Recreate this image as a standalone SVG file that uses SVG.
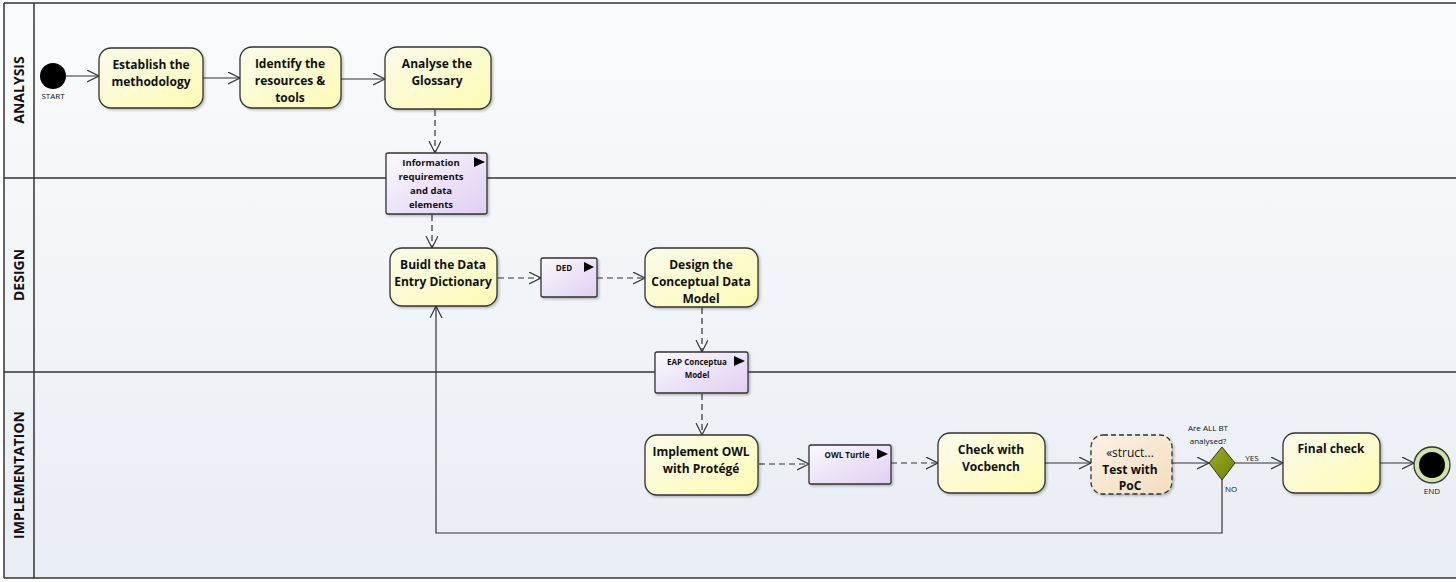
<svg xmlns="http://www.w3.org/2000/svg" width="1456" height="582" viewBox="0 0 1456 582">
<defs>
<linearGradient id="bg" x1="0" y1="0" x2="0" y2="1"><stop offset="0" stop-color="#fafbfc"/><stop offset="1" stop-color="#e9edf4"/></linearGradient>
<linearGradient id="act" x1="0" y1="0" x2="1" y2="1"><stop offset="0" stop-color="#fcfbea"/><stop offset="1" stop-color="#fdfbb4"/></linearGradient>
<linearGradient id="obj" x1="0" y1="0" x2="1" y2="1"><stop offset="0" stop-color="#fbf9fe"/><stop offset="1" stop-color="#dfcff2"/></linearGradient>
<linearGradient id="str" x1="0" y1="0" x2="1" y2="1"><stop offset="0" stop-color="#fbf1e4"/><stop offset="1" stop-color="#f4ddbd"/></linearGradient>
<linearGradient id="dia" x1="0" y1="0" x2="1" y2="1"><stop offset="0" stop-color="#9cad1e"/><stop offset="1" stop-color="#6f8208"/></linearGradient>
<filter id="sh" x="-10%" y="-10%" width="130%" height="130%"><feDropShadow dx="1.5" dy="1.5" stdDeviation="1.2" flood-color="#000" flood-opacity="0.25"/></filter>
<marker id="ah" markerUnits="userSpaceOnUse" markerWidth="14" markerHeight="14" refX="12" refY="6" orient="auto"><path d="M0,0 L12,6 L0,12" fill="none" stroke="#333" stroke-width="1.2"/></marker>
</defs>
<style>
.lane{stroke:#333;stroke-width:1.5;fill:none}
.lt{font-family:"Open Sans","Noto Sans",sans-serif;font-weight:bold;font-size:14px;fill:#111;text-anchor:middle}
.act{fill:url(#act);stroke:#333;stroke-width:1.3;filter:url(#sh)}
.obj{fill:url(#obj);stroke:#333;stroke-width:1.3;filter:url(#sh)}
.t{font-family:"Open Sans","Noto Sans",sans-serif;font-weight:bold;font-size:12px;fill:#111;text-anchor:middle}
.ts{font-family:"Open Sans","Noto Sans",sans-serif;font-weight:bold;font-size:9.5px;fill:#111;text-anchor:middle}
.tx{font-family:"Open Sans","Noto Sans",sans-serif;font-weight:bold;font-size:8px;fill:#111;text-anchor:middle}
.lbl{font-family:"Open Sans","Noto Sans",sans-serif;font-size:8px;fill:#111;text-anchor:middle}
.c{fill:none;stroke:#333;stroke-width:1.2;marker-end:url(#ah)}
.d{stroke-dasharray:6,4}
</style>
<rect x="4" y="3" width="1460" height="575" fill="url(#bg)"/>
<g id="lanes">
<line class="lane" x1="4" y1="3" x2="1456" y2="3"/>
<line class="lane" x1="4" y1="178" x2="1456" y2="178"/>
<line class="lane" x1="4" y1="372" x2="1456" y2="372"/>
<line class="lane" x1="4" y1="578" x2="1456" y2="578"/>
<line class="lane" x1="4" y1="3" x2="4" y2="578"/>
<line class="lane" x1="34" y1="3" x2="34" y2="578"/>
<text class="lt" transform="translate(24,90) rotate(-90)">ANALYSIS</text>
<text class="lt" transform="translate(24,275) rotate(-90)">DESIGN</text>
<text class="lt" transform="translate(24,475) rotate(-90)">IMPLEMENTATION</text>
</g>
<g id="connectors">
<line class="c" x1="66" y1="76" x2="99" y2="76"/>
<line class="c" x1="203" y1="78" x2="240" y2="78"/>
<line class="c" x1="341" y1="79" x2="385" y2="79"/>
<line class="c d" x1="435" y1="110" x2="435" y2="153"/>
<line class="c d" x1="432" y1="215" x2="432" y2="248"/>
<line class="c d" x1="498" y1="278" x2="541" y2="278"/>
<line class="c d" x1="597" y1="278" x2="645" y2="278"/>
<line class="c d" x1="702" y1="308" x2="702" y2="352"/>
<line class="c d" x1="702" y1="394" x2="702" y2="435"/>
<line class="c d" x1="759" y1="464" x2="809" y2="464"/>
<line class="c d" x1="891" y1="463" x2="938" y2="463"/>
<line class="c" x1="1045" y1="463" x2="1091" y2="463"/>
<line class="c" x1="1172" y1="463" x2="1209" y2="463"/>
<line class="c" x1="1235" y1="463" x2="1283" y2="463"/>
<line class="c" x1="1380" y1="463" x2="1414" y2="463"/>
<polyline class="c" points="1222,480 1222,533 436,533 436,306"/>
<text class="lbl" x="1252" y="461">YES</text>
<text class="lbl" x="1231" y="492">NO</text>
<text class="lbl" x="1208" y="431">Are ALL BT</text>
<text class="lbl" x="1208" y="444">analysed?</text>
</g>
<g id="start"><circle cx="53" cy="76" r="13" fill="#000"/><text class="lbl" x="53" y="99">START</text></g>
<g id="establish"><rect class="act" x="99" y="48" width="104" height="60" rx="12"/><text class="t" x="151" y="69">Establish the</text><text class="t" x="151" y="86">methodology</text></g>
<g id="identify"><rect class="act" x="240" y="47" width="101" height="61" rx="12"/><text class="t" x="290" y="68">Identify the</text><text class="t" x="290" y="85">resources &amp;</text><text class="t" x="290" y="102">tools</text></g>
<g id="analyse"><rect class="act" x="385" y="47" width="106" height="62" rx="12"/><text class="t" x="437" y="68">Analyse the</text><text class="t" x="437" y="85">Glossary</text></g>
<g id="info"><rect class="obj" x="386" y="153" width="101" height="61" rx="2"/><path d="M474,157 L485,162 L474,167 Z" fill="#000"/><text class="ts" x="431" y="166">Information</text><text class="ts" x="431" y="180">requirements</text><text class="ts" x="431" y="194">and data</text><text class="ts" x="431" y="208">elements</text></g>
<g id="buidl"><rect class="act" x="390" y="248" width="107" height="58" rx="12"/><text class="t" x="443" y="269">Buidl the Data</text><text class="t" x="443" y="286">Entry Dictionary</text></g>
<g id="ded"><rect class="obj" x="541" y="258" width="56" height="39" rx="2"/><path d="M584,262 L594,267 L584,272 Z" fill="#000"/><text class="tx" x="564" y="271">DED</text></g>
<g id="design"><rect class="act" x="645" y="248" width="113" height="59" rx="12"/><text class="t" x="701" y="269">Design the</text><text class="t" x="701" y="286">Conceptual Data</text><text class="t" x="701" y="303">Model</text></g>
<g id="eap"><rect class="obj" x="655" y="352" width="93" height="41" rx="2"/><path d="M734,356 L745,361 L734,366 Z" fill="#000"/><text class="tx" x="697" y="365">EAP Conceptua</text><text class="tx" x="697" y="378">Model</text></g>
<g id="implement"><rect class="act" x="645" y="435" width="113" height="60" rx="12"/><text class="t" x="701" y="456">Implement OWL</text><text class="t" x="701" y="473">with Protégé</text></g>
<g id="owl"><rect class="obj" x="809" y="445" width="82" height="39" rx="2"/><path d="M877,449 L888,454 L877,459 Z" fill="#000"/><text class="tx" x="847" y="458">OWL Turtle</text></g>
<g id="check"><rect class="act" x="938" y="433" width="107" height="60" rx="12"/><text class="t" x="991" y="454">Check with</text><text class="t" x="991" y="471">Vocbench</text></g>
<g id="test"><rect x="1091" y="435" width="81" height="59" rx="12" fill="url(#str)" stroke="#333" stroke-width="1.3" stroke-dasharray="5,3" filter="url(#sh)"/><text x="1130" y="457" font-family="Open Sans,Noto Sans,sans-serif" font-size="12px" fill="#111" text-anchor="middle">«struct...</text><text class="t" x="1130" y="474">Test with</text><text class="t" x="1130" y="490">PoC</text></g>
<g id="decision"><path d="M1222,447 L1235,463 L1222,480 L1209,463 Z" fill="url(#dia)" stroke="#333" stroke-width="1"/></g>
<g id="final"><rect class="act" x="1283" y="433" width="97" height="60" rx="12"/><text class="t" x="1331" y="453">Final check</text></g>
<g id="end"><circle cx="1432" cy="465" r="18" fill="#cfe3a6" stroke="#333" stroke-width="1.3"/><circle cx="1432" cy="465" r="13" fill="#000"/><text class="lbl" x="1432" y="494">END</text></g>
</svg>
